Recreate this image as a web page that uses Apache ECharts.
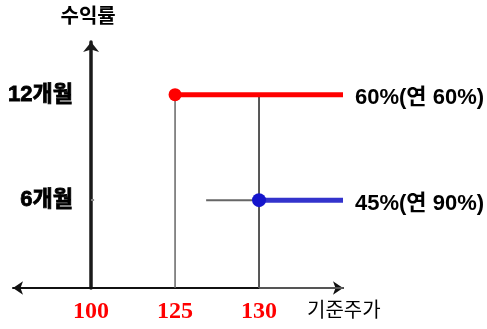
<!DOCTYPE html>
<html><head><meta charset="utf-8">
<script src="https://cdn.jsdelivr.net/npm/echarts@6/dist/echarts.min.js"></script>
<style>html,body{margin:0;padding:0;background:#fff}#c{width:487px;height:329px}</style>
</head><body><div id="c"></div>
<script>
// x: stock price levels (schematic, evenly spaced positions)
const priceLabels = ['100', '125', '130'];
// y: holding period levels
const periodLabels = ['6개월', '12개월'];
const periodValues = [6, 12];
// scenarios
const redStart = '125', redPeriod = 12, redLabel = '60%(연 60%)';
const blueStart = '130', bluePeriod = 6, blueLabel = '45%(연 90%)';
const guideHStart = 1.37; // start of gray horizontal guide at 6개월 (schematic position)
const xEnd = 3;

const xi = p => priceLabels.indexOf(p);
const font = "'Liberation Sans','Noto Sans CJK KR',sans-serif";
const endLbl = (txt, dy) => ({show: true, formatter: txt, distance: 12, offset: [0, dy],
  color: '#000', fontFamily: font, fontWeight: 'bold', fontSize: 22});
const chart = echarts.init(document.getElementById('c'));
chart.setOption({
  animation: false,
  grid: {left: 13, right: 144, top: 42, bottom: 41, containLabel: false, outerBoundsMode: 'none'},
  xAxis: {
    type: 'value', min: -0.93, max: xEnd,
    splitLine: {show: false},
    axisLine: {onZero: false, lineStyle: {color: '#111', width: 2}, symbol: ['arrow', 'arrow'], symbolSize: [10, 10]},
    axisTick: {show: false},
    axisLabel: {
      customValues: priceLabels.map((p, i) => i),
      formatter: v => priceLabels[Math.round(v)],
      color: '#ff0000', fontFamily: "'Liberation Serif',serif", fontWeight: 'bold', fontSize: 24, margin: 12
    }
  },
  yAxis: {
    type: 'value', min: 1, max: 15,
    name: '수익률', nameLocation: 'end', nameGap: 27,
    nameTextStyle: {fontFamily: "'Noto Sans CJK KR',sans-serif", fontWeight: 'bold', fontSize: 20, color: '#000', verticalAlign: 'middle', align: 'center', padding: [0, 6, 0, 0]},
    splitLine: {show: false},
    axisLine: {onZero: true, lineStyle: {color: '#1a1a1a', width: 3.5}, symbol: ['none', 'arrow'], symbolSize: [12, 10]},
    axisTick: {show: true, inside: true, customValues: [periodValues[0]], length: 3, lineStyle: {color: '#888', width: 2}},
    axisLabel: {
      customValues: periodValues,
      formatter: v => periodLabels[periodValues.indexOf(v)],
      color: '#000', fontFamily: font, fontWeight: 'bold', fontSize: 22, margin: -60,
      textBorderColor: '#000', textBorderWidth: 0.8
    }
  },
  graphic: [{
    type: 'text', left: 307, top: 299,
    style: {text: '기준주가', font: "20px 'Noto Sans CJK KR',sans-serif", fill: '#000'}
  }],
  series: [
    {type: 'line', data: [[xi(redStart), 1], [xi(redStart), redPeriod]], symbol: 'none', clip: false, z: 1,
      lineStyle: {color: '#666', width: 1.5}},
    {type: 'line', data: [[xi(blueStart), 1], [xi(blueStart), redPeriod]], symbol: 'none', clip: false, z: 1,
      lineStyle: {color: '#555', width: 2}},
    {type: 'line', data: [[guideHStart, bluePeriod], [xi(blueStart), bluePeriod]], symbol: 'none', z: 1,
      lineStyle: {color: '#666', width: 2}},
    {type: 'line', data: [[xi(blueStart), 1], [xEnd, 1]], symbol: 'none', clip: false, z: 3,
      lineStyle: {color: '#555', width: 2}},
    {type: 'line', z: 5, clip: false,
      data: [{value: [xi(redStart), redPeriod], symbol: 'circle', symbolSize: 13},
             {value: [xEnd, redPeriod], symbol: 'none'}],
      itemStyle: {color: '#ff0000'}, lineStyle: {color: '#ff0000', width: 5},
      endLabel: endLbl(redLabel, 3)},
    {type: 'line', z: 5, clip: false,
      data: [{value: [xi(blueStart), bluePeriod], symbol: 'circle', symbolSize: 14},
             {value: [xEnd, bluePeriod], symbol: 'none'}],
      itemStyle: {color: '#1515cc'}, lineStyle: {color: '#3333cc', width: 5},
      endLabel: endLbl(blueLabel, 4)}
  ]
});
</script></body></html>
